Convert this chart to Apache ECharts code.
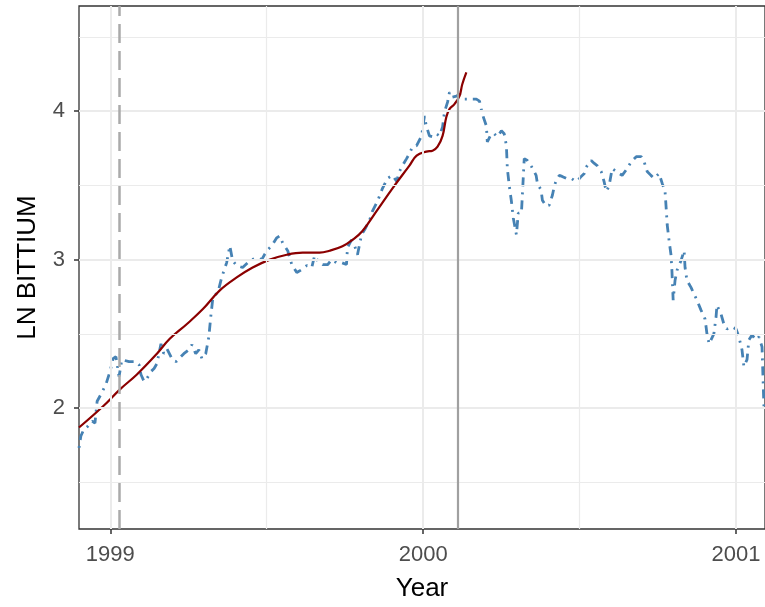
<!DOCTYPE html>
<html>
<head>
<meta charset="utf-8">
<script src="https://cdn.jsdelivr.net/npm/echarts@6/dist/echarts.min.js"></script>
<style>
html,body{margin:0;padding:0;background:#fff;}
#chart{width:765px;height:607px;}
</style>
</head>
<body>
<div id="chart"></div>
<script>
// Observed series (decimal year, log price)
const blueYear = [
1998.900,1998.906,1998.916,1998.929,1998.942,1998.951,1998.958,1998.970,1998.986,1998.999,
1999.009,1999.018,1999.028,1999.037,1999.060,1999.082,1999.092,1999.098,1999.108,1999.117,
1999.130,1999.140,1999.149,1999.162,1999.171,1999.181,1999.197,1999.210,1999.219,1999.235,
1999.251,1999.261,1999.273,1999.283,1999.293,1999.305,1999.315,1999.321,1999.328,1999.344,
1999.356,1999.372,1999.382,1999.391,1999.404,1999.423,1999.446,1999.468,1999.484,1999.500,
1999.516,1999.532,1999.541,1999.551,1999.567,1999.580,1999.596,1999.612,1999.628,1999.644,
1999.653,1999.663,1999.679,1999.695,1999.707,1999.723,1999.739,1999.755,1999.758,1999.771,
1999.781,1999.790,1999.803,1999.816,1999.829,1999.838,1999.854,1999.870,1999.886,1999.902,
1999.915,1999.924,1999.934,1999.947,1999.956,1999.966,1999.979,1999.995,2000.004,2000.010,
2000.020,2000.030,2000.042,2000.052,2000.062,2000.068,2000.078,2000.084,2000.093,2000.106,
2000.116,2000.132,2000.148,2000.170,2000.180,2000.189,2000.202,2000.205,2000.218,2000.227,
2000.237,2000.250,2000.259,2000.266,2000.269,2000.275,2000.282,2000.288,2000.298,2000.304,
2000.314,2000.317,2000.323,2000.333,2000.346,2000.361,2000.365,2000.377,2000.381,2000.393,
2000.403,2000.413,2000.419,2000.425,2000.435,2000.444,2000.457,2000.473,2000.483,2000.492,
2000.505,2000.515,2000.524,2000.537,2000.547,2000.556,2000.569,2000.578,2000.585,2000.594,
2000.604,2000.617,2000.626,2000.636,2000.652,2000.665,2000.681,2000.697,2000.706,2000.716,
2000.728,2000.738,2000.754,2000.764,2000.773,2000.776,2000.780,2000.786,2000.792,2000.795,
2000.799,2000.805,2000.811,2000.824,2000.834,2000.837,2000.843,2000.856,2000.866,2000.875,
2000.888,2000.901,2000.907,2000.914,2000.929,2000.936,2000.939,2000.952,2000.961,2000.971,
2000.987,2001.000,2001.009,2001.019,2001.025,2001.035,2001.041,2001.051,2001.063,2001.073,
2001.083,2001.086,2001.089
];
const blueLn = [
1.733,1.813,1.860,1.880,1.913,1.900,2.047,2.093,2.160,2.247,
2.333,2.347,2.213,2.327,2.313,2.313,2.293,2.227,2.180,2.200,
2.247,2.267,2.300,2.433,2.367,2.400,2.333,2.313,2.333,2.367,
2.393,2.427,2.367,2.393,2.333,2.367,2.480,2.613,2.747,2.780,
2.880,2.980,3.093,2.993,2.960,2.947,2.993,3.013,3.000,3.060,
3.093,3.147,3.160,3.113,3.060,2.967,2.913,2.933,2.960,2.947,
3.027,2.993,2.967,2.967,3.000,2.980,2.980,2.967,3.080,3.133,
3.093,3.033,3.167,3.213,3.267,3.327,3.393,3.480,3.547,3.567,
3.527,3.593,3.633,3.680,3.713,3.760,3.767,3.833,3.967,3.900,
3.833,3.827,3.847,3.833,3.893,3.993,4.060,4.127,4.093,4.100,
4.113,4.080,4.080,4.080,4.067,3.980,3.900,3.793,3.847,3.847,
3.827,3.867,3.847,3.767,3.613,3.500,3.393,3.280,3.167,3.313,
3.313,3.433,3.680,3.667,3.627,3.567,3.513,3.467,3.400,3.360,
3.367,3.433,3.493,3.533,3.567,3.560,3.547,3.547,3.533,3.527,
3.560,3.580,3.633,3.667,3.647,3.633,3.593,3.527,3.460,3.493,
3.613,3.593,3.580,3.567,3.613,3.660,3.693,3.693,3.660,3.593,
3.567,3.547,3.580,3.513,3.460,3.367,3.233,3.127,3.033,2.927,
2.727,2.860,2.927,2.993,3.060,2.947,2.860,2.813,2.767,2.727,
2.660,2.600,2.500,2.433,2.500,2.613,2.693,2.633,2.567,2.533,
2.547,2.533,2.480,2.393,2.280,2.327,2.460,2.493,2.460,2.480,
2.413,2.213,2.013
];
// Fitted trend (decimal year, log price)
const fitYear = [1998.900,1998.977,1999.031,1999.085,1999.149,1999.190,1999.245,1999.296,1999.350,1999.404,
1999.455,1999.510,1999.564,1999.615,1999.669,1999.701,1999.742,1999.774,1999.806,1999.851,
1999.902,1999.956,1999.979,2000.010,2000.030,2000.046,2000.062,2000.074,2000.084,2000.100,
2000.116,2000.125,2000.138];
const fitLn = [1.870,2.013,2.127,2.227,2.367,2.467,2.567,2.667,2.793,2.880,
2.947,3.000,3.033,3.047,3.047,3.060,3.090,3.133,3.193,3.327,
3.480,3.633,3.700,3.727,3.733,3.760,3.833,3.960,4.013,4.047,
4.100,4.180,4.260];
// Reference lines
const dashedLineYear = 1999.028;
const solidLineYear = 2000.105;
// Ticks
const xTickValues = [1999, 2000, 2001];
const xMinorValues = [1999.5, 2000.5];
const yTickValues = [2, 3, 4];
const yMinorValues = [1.5, 2.5, 3.5, 4.5];

const zip = (a, b) => a.map((v, i) => [v, b[i]]);
const FONT = '"Liberation Sans", Arial, Helvetica, sans-serif';
const gridCol = '#EBEBEB';

const gridLines = [];
xTickValues.forEach(v => gridLines.push({ xAxis: v, lineStyle: { color: gridCol, width: 2, type: 'solid' } }));
xMinorValues.forEach(v => gridLines.push({ xAxis: v, lineStyle: { color: gridCol, width: 1.2, type: 'solid' } }));
yTickValues.forEach(v => gridLines.push({ yAxis: v, lineStyle: { color: gridCol, width: 2, type: 'solid' } }));
yMinorValues.forEach(v => gridLines.push({ yAxis: v, lineStyle: { color: gridCol, width: 1.2, type: 'solid' } }));

const chart = echarts.init(document.getElementById('chart'), null, { renderer: 'canvas' });
chart.setOption({
  animation: false,
  backgroundColor: '#ffffff',
  grid: {
    left: 79, right: -1, top: 6, bottom: 73,
    show: true, borderColor: '#333333', borderWidth: 1.3, backgroundColor: 'transparent'
  },
  xAxis: {
    type: 'value', min: 1998.9, max: 2001.0925,
    name: 'Year', nameLocation: 'middle', nameGap: 47,
    nameTextStyle: { fontFamily: FONT, fontSize: 26, color: '#000' },
    axisLine: { show: false },
    splitLine: { show: false },
    axisTick: { show: true, length: 5, customValues: xTickValues, lineStyle: { color: '#333333', width: 1.5 } },
    axisLabel: { customValues: xTickValues, fontFamily: FONT, fontSize: 22, color: '#4D4D4D', margin: 15,
      formatter: v => String(Math.round(v)) }
  },
  yAxis: {
    type: 'value', min: 1.187, max: 4.707,
    name: 'LN BITTIUM', nameLocation: 'middle', nameGap: 38, nameRotate: 90,
    nameTextStyle: { fontFamily: FONT, fontSize: 26, color: '#000' },
    axisLine: { show: false },
    splitLine: { show: false },
    axisTick: { show: true, length: 5, customValues: yTickValues, lineStyle: { color: '#333333', width: 1.5 } },
    axisLabel: { customValues: yTickValues, fontFamily: FONT, fontSize: 22, color: '#4D4D4D', margin: 14,
      formatter: v => String(Math.round(v)) }
  },
  series: [
    {
      type: 'line', data: [], silent: true, z: 1,
      markLine: { silent: true, symbol: ['none', 'none'], label: { show: false }, animation: false, data: gridLines }
    },
    {
      type: 'line', data: [], silent: true, z: 2,
      markLine: { silent: true, symbol: ['none', 'none'], label: { show: false }, animation: false,
        data: [
          { xAxis: dashedLineYear, lineStyle: { color: '#AAAAAA', width: 2.5, type: [19, 8] } },
          { xAxis: solidLineYear, lineStyle: { color: '#A0A0A0', width: 2.2, type: 'solid' } }
        ] }
    },
    {
      type: 'line', data: zip(blueYear, blueLn), showSymbol: false, symbol: 'none', z: 3,
      lineStyle: { color: '#4682B4', width: 2.8, type: [2, 6, 9, 6], cap: 'butt' }
    },
    {
      type: 'line', data: zip(fitYear, fitLn), showSymbol: false, symbol: 'none', smooth: 0.4, z: 4,
      lineStyle: { color: '#8B0000', width: 2.2 }
    }
  ]
});
</script>
</body>
</html>
